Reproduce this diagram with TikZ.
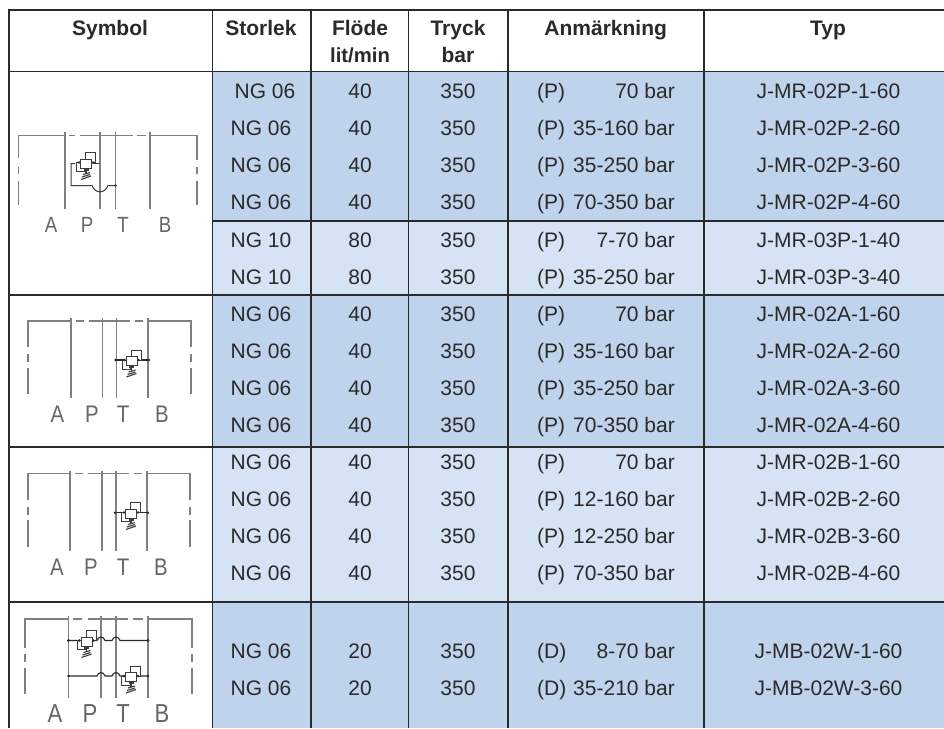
\documentclass[tikz,border=0pt]{standalone}
\usepackage{fontspec}
\setmainfont{Liberation Sans}
\newfontfamily\portfont{Liberation Sans}[FakeStretch=0.85]
\definecolor{inkc}{HTML}{2A2A2A}
\definecolor{darkb}{HTML}{BFD3EC}
\definecolor{lightb}{HTML}{D6E3F4}
\definecolor{pipec}{HTML}{808080}
\definecolor{valvec}{HTML}{3C3C3C}
\definecolor{labelc}{HTML}{666666}
\tikzset{
  grid/.style={draw=inkc,line width=1.9pt},
  cell/.style={anchor=base,inner sep=0pt,text=inkc,font=\fontsize{21}{21}\selectfont},
  head/.style={cell,font=\fontsize{21}{21}\selectfont\bfseries},
  pipe/.style={draw=pipec,line width=1.5pt},
  thinpipe/.style={draw=valvec,line width=1pt},
  port/.style={anchor=base,inner sep=0pt,text=labelc},
  valve/.pic={
    \draw[thinpipe,fill=white] (-0.5,-4.5) -- (-0.5,-11) -- (9.5,-11) -- (9.5,-1) -- (5,-1);
    \draw[thinpipe] (-5,-1) -- (-9.5,-1) -- (-9.5,8) -- (-1,8) -- (-1,4);
    \draw[thinpipe,fill=white] (-5.5,-4.5) rectangle (5.5,4.5);
    \draw[valvec,line width=2pt] (-2.5,6) -- (2.5,6);
    \draw[valvec,line width=1.2pt] (0,4.5) -- (0,10);
    \draw[valvec,line width=1.1pt] (-3,11) -- (4,9) (-4,13.5) -- (4,11) (-5,16) -- (5,12.5);
    \fill[inkc] (-7,-1) circle (1.3) (7,-1) circle (1.3);
  },
}
\newcommand{\tabrow}[8]{%
  \node[cell] (ng#1) at (#3,#2) {NG #4};
  \node[cell] (fl#1) at (360,#2) {\ifnum#4<10 40\else 80\fi};
  \node[cell] (pr#1) at (458,#2) {350};
  \node[cell,anchor=base west] (pp#1) at (537,#2) {#6};
  \node[cell,anchor=base east] (rg#1) at (675,#2) {#7};
  \node[cell] (ty#1) at (828.5,#2) {#8};
}
\begin{document}
\begin{tikzpicture}[x=1pt,y=-1pt]
\useasboundingbox (0,0) rectangle (944,728);
% fills
\fill[white] (0,0) rectangle (944,728);
\fill[darkb] (212,71) rectangle (944,221);
\fill[lightb] (212,221) rectangle (944,295);
\fill[darkb] (212,295) rectangle (944,447);
\fill[lightb] (212,447) rectangle (944,602);
\fill[darkb] (212,602) rectangle (944,728);
% grid
\draw[grid] (9,10) -- (944,10);
\draw[grid] (9,71.5) -- (944,71.5);
\draw[grid] (212.5,221) -- (944,221);
\draw[grid] (9,295) -- (944,295);
\draw[grid] (9,447) -- (944,447);
\draw[grid] (9,602) -- (944,602);
\foreach \gx in {9,212.5,311,408.5,508,704} \draw[grid] (\gx,9) -- (\gx,728);
% header
\node[head] (hsym) at (110,35) {Symbol};
\node[head] (hsto) at (261,35) {Storlek};
\node[head] (hflo) at (360,35) {Flöde};
\node[head,font=\fontsize{20.3}{20.3}\selectfont\bfseries] (hlit) at (360,62) {lit/min};
\node[head] (htry) at (458,35) {Tryck};
\node[head] (hbar) at (458,62) {bar};
\node[head] (hanm) at (605.7,35) {Anmärkning};
\node[head] (htyp) at (828,35) {Typ};
% rows
\tabrow{a}{98}{265}{06}{}{(P)}{70 bar}{J-MR-02P-1-60}
\tabrow{b}{135}{261}{06}{}{(P)}{35-160 bar}{J-MR-02P-2-60}
\tabrow{c}{172}{261}{06}{}{(P)}{35-250 bar}{J-MR-02P-3-60}
\tabrow{d}{209}{261}{06}{}{(P)}{70-350 bar}{J-MR-02P-4-60}
\tabrow{e}{247}{261}{10}{}{(P)}{7-70 bar}{J-MR-03P-1-40}
\tabrow{f}{284}{261}{10}{}{(P)}{35-250 bar}{J-MR-03P-3-40}
\tabrow{g}{321}{261}{06}{}{(P)}{70 bar}{J-MR-02A-1-60}
\tabrow{h}{358}{261}{06}{}{(P)}{35-160 bar}{J-MR-02A-2-60}
\tabrow{i}{395}{261}{06}{}{(P)}{35-250 bar}{J-MR-02A-3-60}
\tabrow{j}{432}{261}{06}{}{(P)}{70-350 bar}{J-MR-02A-4-60}
\tabrow{k}{469}{261}{06}{}{(P)}{70 bar}{J-MR-02B-1-60}
\tabrow{l}{506}{261}{06}{}{(P)}{12-160 bar}{J-MR-02B-2-60}
\tabrow{m}{543}{261}{06}{}{(P)}{12-250 bar}{J-MR-02B-3-60}
\tabrow{n}{580}{261}{06}{}{(P)}{70-350 bar}{J-MR-02B-4-60}
% last rows (20 lit/min)
\node[cell] (ngo) at (261,658) {NG 06};
\node[cell] (flo) at (360,658) {20};
\node[cell] (pro) at (458,658) {350};
\node[cell,anchor=base west] (ppo) at (537,658) {(D)};
\node[cell,anchor=base east] (rgo) at (675,658) {8-70 bar};
\node[cell] (tyo) at (828.5,658) {J-MB-02W-1-60};
\node[cell] (ngp) at (261,695) {NG 06};
\node[cell] (flp) at (360,695) {20};
\node[cell] (prp) at (458,695) {350};
\node[cell,anchor=base west] (ppp) at (537,695) {(D)};
\node[cell,anchor=base east] (rgp) at (675,695) {35-210 bar};
\node[cell] (typ) at (828.5,695) {J-MB-02W-3-60};

% ---- symbol 1
\draw[pipe] (18.5,158) -- (18.5,135.7) -- (65,135.7) (69,135.7) -- (75,135.7) (80,135.7) -- (133,135.7) (137,135.7) -- (146,135.7) (150,135.7) -- (197,135.7) -- (197,160);
\draw[pipe] (18.5,167) -- (18.5,174) (18.5,181) -- (18.5,205) (197,167) -- (197,174) (197,181) -- (197,205);
\foreach \px in {65,100,115.5,150} \draw[pipe] (\px,132) -- (\px,209);
\draw[thinpipe] (75,163.5) -- (71,163.5) -- (71,185.5) -- (92,185.5) .. controls (95,194) and (105,194) .. (108,185.5) -- (115.5,185.5);
\pic at (86,163.5) {valve};
\draw[thinpipe] (93,163.5) -- (100,163.5);
\fill[inkc] (115.5,185.5) circle (1.4);
\node[port,font=\fontsize{22}{22}\portfont] (a1) at (51,232) {A};
\node[port,font=\fontsize{22}{22}\portfont] (p1) at (87,232) {P};
\node[port,font=\fontsize{22}{22}\portfont] (t1) at (123,232) {T};
\node[port,font=\fontsize{22}{22}\portfont] (b1) at (165,232) {B};

% ---- symbol 2
\draw[pipe] (28,347) -- (28,321) -- (71,321) (76,321) -- (84,321) (89,321) -- (130,321) (135,321) -- (143,321) (148,321) -- (191,321) -- (191,347);
\draw[pipe] (28,354) -- (28,362) (28,368) -- (28,394) (191,354) -- (191,362) (191,368) -- (191,394);
\foreach \px in {71,102.5,116.5,148} \draw[pipe] (\px,318) -- (\px,398);
\draw[inkc,line width=1.1pt] (115.5,360) -- (125,360) (137,360) -- (149,360);
\pic at (131.5,361) {valve};
\fill[inkc] (115.5,360) circle (1.4) (149,360) circle (1.4);
\node[port,font=\fontsize{24}{24}\portfont] (a2) at (57.5,422.5) {A};
\node[port,font=\fontsize{24}{24}\portfont] (p2) at (92,422.5) {P};
\node[port,font=\fontsize{24}{24}\portfont] (t2) at (123,422.5) {T};
\node[port,font=\fontsize{24}{24}\portfont] (b2) at (162,422.5) {B};

% ---- symbol 3
\draw[pipe] (28,500) -- (28,473.5) -- (70,473.5) (75,473.5) -- (83,473.5) (88,473.5) -- (129,473.5) (134,473.5) -- (142,473.5) (147,473.5) -- (190,473.5) -- (190,500);
\draw[pipe] (28,507) -- (28,515) (28,520) -- (28,547) (190,507) -- (190,515) (190,520) -- (190,547);
\foreach \px in {70,102,116,147} \draw[pipe] (\px,470.5) -- (\px,551);
\draw[inkc,line width=1.1pt] (115,512.7) -- (125,512.7) (137,512.7) -- (148,512.7);
\pic at (131,513.5) {valve};
\fill[inkc] (115,512.7) circle (1.4) (148,512.7) circle (1.4);
\node[port,font=\fontsize{24}{24}\portfont] (a3) at (57,575.5) {A};
\node[port,font=\fontsize{24}{24}\portfont] (p3) at (91,575.5) {P};
\node[port,font=\fontsize{24}{24}\portfont] (t3) at (123,575.5) {T};
\node[port,font=\fontsize{24}{24}\portfont] (b3) at (161,575.5) {B};

% ---- symbol 4
\draw[pipe] (25,648) -- (25,619) -- (68,619) (73,619) -- (82,619) (88,619) -- (128,619) (133,619) -- (143,619) (148,619) -- (192,619) -- (192,648);
\draw[pipe] (25,654) -- (25,662) (25,668) -- (25,694) (192,654) -- (192,662) (192,668) -- (192,694);
\foreach \px in {68.5,101,116,148} \draw[pipe] (\px,616) -- (\px,698);
\draw[inkc,line width=1.1pt] (68.5,640.5) -- (80,640.5) (92,640.5) -- (97,640.5) .. controls (98,636) and (104,636) .. (105,640.5) -- (112,640.5) .. controls (113,636) and (119,636) .. (120,640.5) -- (148,640.5);
\draw[inkc,line width=1.1pt] (68.5,676) -- (97,676) .. controls (98,671.5) and (104,671.5) .. (105,676) -- (112,676) .. controls (113,671.5) and (119,671.5) .. (120,676) -- (125,676) (137,676) -- (148,676);
\pic at (86.5,641.5) {valve};
\pic at (131,677) {valve};
\fill[inkc] (68.5,640.5) circle (1.7) (148,640.5) circle (1.7) (68.5,676) circle (1.4) (148,676) circle (1.4);
\node[port,font=\fontsize{26}{26}\portfont] (a4) at (55,722) {A};
\node[port,font=\fontsize{26}{26}\portfont] (p4) at (90,722) {P};
\node[port,font=\fontsize{26}{26}\portfont] (t4) at (123,722) {T};
\node[port,font=\fontsize{26}{26}\portfont] (b4) at (162,722) {B};
\end{tikzpicture}
\end{document}
